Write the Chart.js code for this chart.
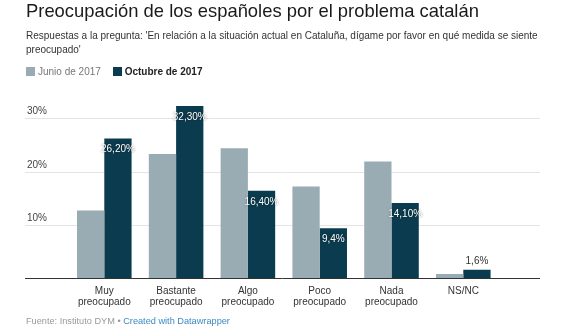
<!DOCTYPE html>
<html lang="es">
<head>
<meta charset="utf-8">
<title>Preocupación de los españoles por el problema catalán</title>
<script src="https://cdn.jsdelivr.net/npm/chart.js@4.4.1/dist/chart.umd.min.js"></script>
<style>
  html, body { margin: 0; padding: 0; background: #fff; }
  body { width: 580px; height: 335px; position: relative; overflow: hidden;
         font-family: "Liberation Sans", Arial, sans-serif; }
  #chart { position: absolute; left: 0; top: 0; }
  .title { position: absolute; left: 26px; top: 0px; font-size: 18.4px; line-height: 22px;
           color: #1a1a1a; white-space: nowrap; }
  .sub { position: absolute; left: 26px; top: 29px; width: 530px; font-size: 10px;
         line-height: 14px; color: #333; }
  .legend { position: absolute; left: 26px; top: 65px; font-size: 10px; line-height: 14px;
            white-space: nowrap; }
  .legend span.sw { display: inline-block; width: 9px; height: 9px; vertical-align: -1px;
                    margin-right: 3px; }
  .legend .item { margin-right: 9px; }
  .foot { position: absolute; left: 26px; top: 314px; font-size: 9.2px; line-height: 14px;
          color: #999; white-space: nowrap; }
  .foot a { color: #3b8ac0; text-decoration: none; }
</style>
</head>
<body>
<canvas id="chart" width="580" height="335"></canvas>
<div class="title">Preocupación de los españoles por el problema catalán</div>
<div class="sub">Respuestas a la pregunta: 'En relación a la situación actual en Cataluña, dígame por favor en qué medida se siente preocupado'</div>
<div class="legend">
  <span class="item" style="color:#777"><span class="sw" style="background:#9aacb3"></span>Junio de 2017</span>
  <span class="item" style="color:#222;font-weight:bold"><span class="sw" style="background:#0b3b4e"></span>Octubre de 2017</span>
</div>
<div class="foot">Fuente: Instituto DYM • <a>Created with Datawrapper</a></div>

<script>
// Answer categories (two-line axis labels)
const categories = [
  ["Muy", "preocupado"],
  ["Bastante", "preocupado"],
  ["Algo", "preocupado"],
  ["Poco", "preocupado"],
  ["Nada", "preocupado"],
  ["NS/NC"]
];

// Share of respondents, percent
const junio2017 = [12.7, 23.3, 24.4, 17.2, 21.9, 0.8];
const octubre2017 = [26.2, 32.3, 16.4, 9.4, 14.1, 1.6];

// Value labels printed on the October bars
const octubreLabels = ["26,20%", "32,30%", "16,40%", "9,4%", "14,10%", "1,6%"];

// Horizontal gridlines and their labels
const yTicks = [10, 20, 30];
const yTickLabels = ["10%", "20%", "30%"];

const FONT = '"Liberation Sans", Arial, sans-serif';
const GRID_LEFT = 25, GRID_RIGHT = 540;

// Gridlines and tick labels spanning the full chart width, plus the baseline
const gridPlugin = {
  id: 'dwGrid',
  beforeDatasetsDraw(chart) {
    const ctx = chart.ctx, y = chart.scales.y;
    ctx.save();
    ctx.font = '10px ' + FONT;
    ctx.textAlign = 'left';
    ctx.textBaseline = 'alphabetic';
    yTicks.forEach((v, i) => {
      const py = Math.round(y.getPixelForValue(v)) + 0.5;
      ctx.strokeStyle = '#e4e4e4';
      ctx.lineWidth = 1;
      ctx.beginPath();
      ctx.moveTo(GRID_LEFT, py);
      ctx.lineTo(GRID_RIGHT, py);
      ctx.stroke();
      ctx.fillStyle = '#444';
      ctx.fillText(yTickLabels[i], 27, py - 5);
    });
    ctx.restore();
  },
  afterDatasetsDraw(chart) {
    const ctx = chart.ctx, y = chart.scales.y;
    ctx.save();
    const py = Math.round(y.getPixelForValue(0)) + 0.5;
    ctx.strokeStyle = '#333';
    ctx.lineWidth = 1;
    ctx.beginPath();
    ctx.moveTo(GRID_LEFT, py);
    ctx.lineTo(GRID_RIGHT, py);
    ctx.stroke();

    // value labels on the October series
    const meta = chart.getDatasetMeta(1);
    ctx.font = '10px ' + FONT;
    ctx.textAlign = 'center';
    ctx.textBaseline = 'middle';
    meta.data.forEach((bar, i) => {
      const v = octubre2017[i];
      if (v >= 5) {
        ctx.save();
        ctx.shadowColor = 'rgba(0,0,0,0.55)';
        ctx.shadowBlur = 2;
        ctx.fillStyle = '#fff';
        ctx.fillText(octubreLabels[i], bar.x, bar.y + 11);
        ctx.restore();
      } else {
        ctx.fillStyle = '#333';
        ctx.fillText(octubreLabels[i], bar.x, bar.y - 9);
      }
    });
    ctx.restore();
  }
};

new Chart(document.getElementById('chart'), {
  type: 'bar',
  data: {
    labels: categories,
    datasets: [
      { label: 'Junio de 2017', data: junio2017, backgroundColor: '#9aacb3' },
      { label: 'Octubre de 2017', data: octubre2017, backgroundColor: '#0b3b4e' }
    ]
  },
  options: {
    responsive: false,
    animation: false,
    devicePixelRatio: 1,
    datasets: { bar: { categoryPercentage: 0.76, barPercentage: 1.0 } },
    layout: { padding: { left: 68.4, right: 80.8, top: 102.3, bottom: 16.7 } },
    plugins: { legend: { display: false }, tooltip: { enabled: false } },
    scales: {
      x: {
        grid: { display: false },
        border: { display: false },
        ticks: { color: '#333', font: { family: FONT, size: 10, lineHeight: 1.1 },
                 padding: -1, maxRotation: 0, autoSkip: false },
        afterFit(scale) { scale.height = 40; }
      },
      y: { display: false, min: 0, max: 33 }
    }
  },
  plugins: [gridPlugin]
});
</script>
</body>
</html>
